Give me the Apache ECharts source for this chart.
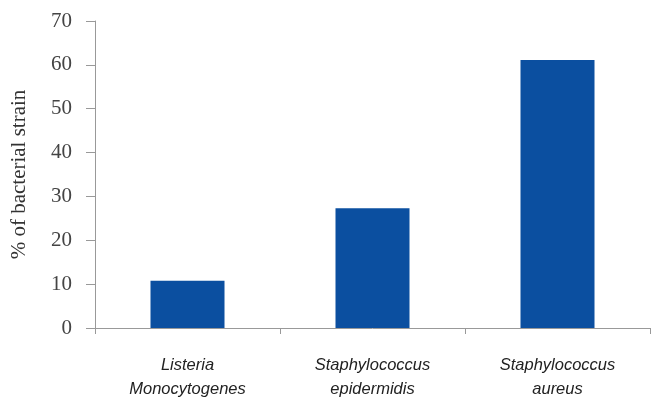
<!DOCTYPE html>
<html><head><meta charset="utf-8">
<script src="https://cdn.jsdelivr.net/npm/echarts@6/dist/echarts.min.js"></script>
<style>html,body{margin:0;padding:0;background:#fff}#c{width:662px;height:397px}</style>
</head><body><div id="c"></div>
<script>
const categories = ["Listeria\nMonocytogenes", "Staphylococcus\nepidermidis", "Staphylococcus\naureus"];
const values = [10.8, 27.3, 61.1];
const yTicks = {min: 0, max: 70, interval: 10};
const yName = "% of bacterial strain";

const chart = echarts.init(document.getElementById('c'));
chart.setOption({
  animation: false,
  grid: {left: 95, right: 12, top: 21, bottom: 69, containLabel: false, outerBoundsMode: 'none'},
  xAxis: {
    type: 'category', data: categories,
    axisLine: {lineStyle: {color: '#999', width: 1}},
    axisTick: {show: true, alignWithLabel: false, length: 6, inside: false, lineStyle: {color: '#999'}},
    axisLabel: {fontFamily: '"Liberation Sans", Arial, sans-serif', fontStyle: 'italic', fontSize: 16.5, color: '#222', margin: 25, lineHeight: 24}
  },
  yAxis: {
    type: 'value', min: yTicks.min, max: yTicks.max, interval: yTicks.interval,
    name: yName, nameLocation: 'middle', nameGap: 65, nameRotate: 90,
    nameTextStyle: {fontFamily: '"Liberation Serif", "Times New Roman", serif', fontSize: 21, color: '#333'},
    axisLine: {show: true, lineStyle: {color: '#999', width: 1}},
    axisTick: {show: true, length: 9, lineStyle: {color: '#999'}},
    splitLine: {show: false},
    axisLabel: {fontFamily: '"Liberation Serif", "Times New Roman", serif', fontSize: 21, color: '#444', margin: 23}
  },
  series: [{
    type: 'bar', data: values, barWidth: '40%',
    itemStyle: {color: '#0b4fa0'}
  }]
});
</script></body></html>
